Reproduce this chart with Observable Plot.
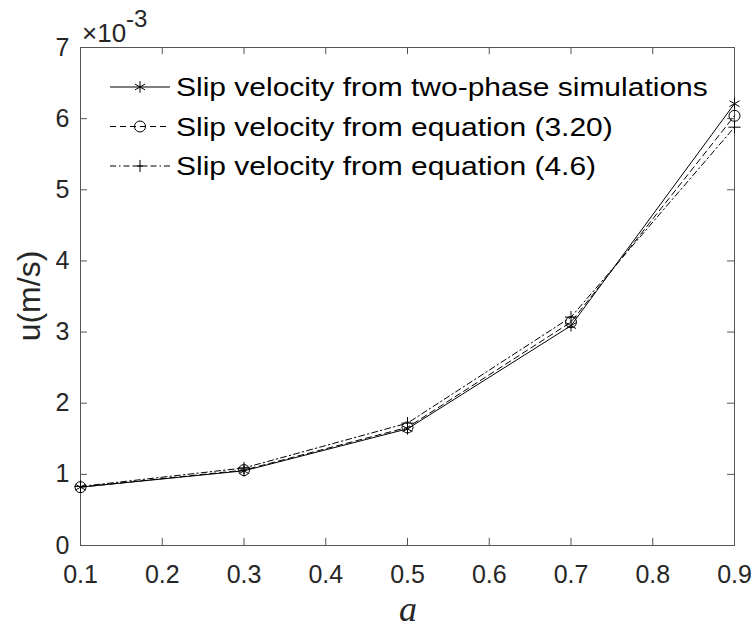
<!DOCTYPE html>
<html>
<head>
<meta charset="utf-8">
<script src="https://cdn.jsdelivr.net/npm/d3@7"></script>
<script src="https://cdn.jsdelivr.net/npm/@observablehq/plot@0.6"></script>
<style>
  html, body { margin: 0; padding: 0; background: #fff; }
  #chart svg { display: block; }
</style>
</head>
<body>
<div id="chart"></div>
<script>
// Volume fraction a (x axis)
const aValues = [0.1, 0.3, 0.5, 0.7, 0.9];
// Slip velocity, in units of 1e-3 m/s
const simulation = [0.82, 1.05, 1.64, 3.09, 6.21];
const eq320 = [0.82, 1.06, 1.66, 3.14, 6.04];
const eq46 = [0.83, 1.09, 1.72, 3.21, 5.88];

const seriesNames = [
  "Slip velocity from two-phase simulations",
  "Slip velocity from equation (3.20)",
  "Slip velocity from equation (4.6)"
];
const xTicks = [0.1, 0.2, 0.3, 0.4, 0.5, 0.6, 0.7, 0.8, 0.9];
const yTicks = [0, 1, 2, 3, 4, 5, 6, 7];

const series = [
  {name: seriesNames[0], values: simulation, symbol: "asterisk", r: 5.5, dash: null},
  {name: seriesNames[1], values: eq320, symbol: "circle", r: 5.5, dash: "6,4"},
  {name: seriesNames[2], values: eq46, symbol: "plus", r: 4, dash: "6,3,1.5,3"}
];
const rows = series.map(s => s.values.map((v, i) => ({a: aValues[i], u: v, name: s.name})));

const axisColor = "#262626";
const boxColor = "#555";
const font = "'Liberation Sans', Arial, Helvetica, sans-serif";
const xTickLen = 0.0085; // inward tick length, in data units of a
const yTickLen = 0.1;    // inward tick length, in data units of u

const marks = [
  // Inward ticks on all four sides of the box
  Plot.ruleX(xTicks.slice(1, -1), {y1: 0, y2: yTickLen, stroke: boxColor, strokeWidth: 1}),
  Plot.ruleX(xTicks.slice(1, -1), {y1: 7 - yTickLen, y2: 7, stroke: boxColor, strokeWidth: 1}),
  Plot.ruleY(yTicks.slice(1, -1), {x1: 0.1, x2: 0.1 + xTickLen, stroke: boxColor, strokeWidth: 1}),
  Plot.ruleY(yTicks.slice(1, -1), {x1: 0.9 - xTickLen, x2: 0.9, stroke: boxColor, strokeWidth: 1}),
  Plot.frame({stroke: boxColor, strokeWidth: 1}),
  Plot.axisX(xTicks, {tickSize: 0, tickPadding: 20, fontSize: 25, fill: axisColor, label: null, tickFormat: d => d.toFixed(1)}),
  Plot.axisY(yTicks, {tickSize: 0, tickPadding: 11, fontSize: 25, fill: axisColor, label: null, tickFormat: d => String(d)})
];
series.forEach((s, k) => {
  marks.push(Plot.line(rows[k], {x: "a", y: "u", stroke: "#000", strokeWidth: 1, strokeDasharray: s.dash}));
  marks.push(Plot.dot(rows[k], {x: "a", y: "u", symbol: () => s.symbol, r: s.r, stroke: "#000", fill: "none", strokeWidth: 1}));
});

const chart = Plot.plot({
  width: 755,
  height: 628,
  marginLeft: 80,
  marginRight: 21,
  marginTop: 47,
  marginBottom: 83,
  style: {fontFamily: font, background: "#fff", overflow: "visible"},
  x: {domain: [0.1, 0.9]},
  y: {domain: [0, 7]},
  symbol: {domain: ["asterisk", "circle", "plus"], range: ["asterisk", "circle", "plus"]},
  marks
});
document.getElementById("chart").appendChild(chart);

// Axis titles, exponent and in-plot legend
const svg = d3.select(chart);
const exp = svg.append("text")
  .attr("x", 82).attr("y", 42)
  .attr("text-anchor", "start")
  .attr("font-family", font).attr("font-size", 26).attr("fill", axisColor);
exp.append("tspan").text("\u00d710");
exp.append("tspan").attr("font-size", 24).attr("dy", -15).text("-3");

svg.append("text")
  .attr("transform", "translate(40,296) rotate(-90)")
  .attr("text-anchor", "middle")
  .attr("font-family", font).attr("font-size", 32).attr("fill", axisColor)
  .text("u(m/s)");

svg.append("text")
  .attr("x", 408).attr("y", 621)
  .attr("text-anchor", "middle")
  .attr("font-family", "'Liberation Serif', 'Times New Roman', serif")
  .attr("font-style", "italic").attr("font-size", 36).attr("fill", axisColor)
  .text("a");

const symbolTypes = {asterisk: d3.symbolAsterisk, circle: d3.symbolCircle, plus: d3.symbolPlus};
const legend = svg.append("g");
const legendTexts = [];
series.forEach((s, k) => {
  const y = 87 + k * 39.5;
  legend.append("line")
    .attr("x1", 110).attr("x2", 170).attr("y1", y).attr("y2", y)
    .attr("stroke", "#000").attr("stroke-width", 1)
    .attr("stroke-dasharray", s.dash);
  legend.append("path")
    .attr("transform", `translate(140,${y})`)
    .attr("d", d3.symbol(symbolTypes[s.symbol], Math.PI * s.r * s.r)())
    .attr("fill", "none")
    .attr("stroke", "#000").attr("stroke-width", 1);
  const t = legend.append("text")
    .attr("x", 0).attr("y", 0)
    .attr("dy", "0.35em")
    .attr("text-anchor", "start")
    .attr("font-family", font).attr("font-size", 26).attr("fill", "#000")
    .text(s.name);
  legendTexts.push({t, y});
});
// Legend labels are set slightly wide, as in the original figure
const w0 = legendTexts[0].t.node().getComputedTextLength();
const sx = w0 > 0 ? 532 / w0 : 1;
legendTexts.forEach(({t, y}) => t.attr("transform", `translate(176,${y}) scale(${sx},1)`));
</script>
</body>
</html>
